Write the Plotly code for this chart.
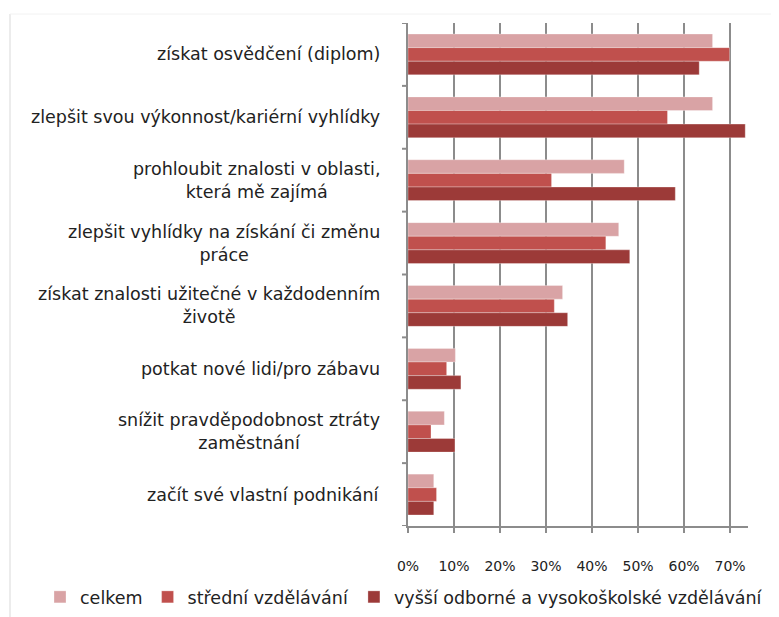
import plotly.graph_objects as go

categories = [
    "získat osvědčení (diplom)",
    "zlepšit svou výkonnost/kariérní vyhlídky",
    "prohloubit znalosti v oblasti,<br>která mě zajímá",
    "zlepšit vyhlídky na získání či změnu<br>práce",
    "získat znalosti užitečné v každodenním<br>životě",
    "potkat nové lidi/pro zábavu",
    "snížit pravděpodobnost ztráty<br>zaměstnání",
    "začít své vlastní podnikání",
]
series_names = ["celkem", "střední vzdělávání", "vyšší odborné a vysokoškolské vzdělávání"]
celkem = [0.662, 0.662, 0.470, 0.458, 0.336, 0.103, 0.079, 0.056]
stredni = [0.699, 0.564, 0.312, 0.430, 0.318, 0.084, 0.050, 0.062]
vyssi = [0.633, 0.733, 0.581, 0.482, 0.347, 0.115, 0.102, 0.056]
tick_vals = [0, 0.1, 0.2, 0.3, 0.4, 0.5, 0.6, 0.7]
tick_text = ["0%", "10%", "20%", "30%", "40%", "50%", "60%", "70%"]

colors = ["#D9A3A5", "#C0504D", "#9C3A38"]
cat_ids = list(range(len(categories)))
LABEL_FONT = dict(family="DejaVu Sans", size=17.5, color="#222222")

# page body has an 8px margin; work in figure coordinates
OFF = 8
PL, PR, PT, PB = 408 - OFF, 748 - OFF, 23 - OFF, 526 - OFF
W, H = 779, 617
PW, PH = PR - PL, PB - PT


def px_x(x):
    return (x - OFF - PL) / PW


def px_y(y):
    return (PB - (y - OFF)) / PH


fig = go.Figure()
for name, vals, col in zip(series_names, [celkem, stredni, vyssi], colors):
    fig.add_trace(go.Bar(
        y=cat_ids, x=vals, name=name, orientation="h",
        marker=dict(color=col, line=dict(color="rgba(255,255,255,0.6)", width=0.5)),
    ))

for i, c in enumerate(categories):
    fig.add_annotation(
        x=0, xref="paper", y=i, yref="y", text=c, showarrow=False,
        xanchor="right", yanchor="middle", align="center", xshift=-26,
        font=LABEL_FONT,
    )

# faint outer frame
fig.add_shape(type="line", xref="paper", yref="paper",
              x0=px_x(10), x1=px_x(10), y0=px_y(14), y1=px_y(630),
              line=dict(color="#e6e6e6", width=1.5))
fig.add_shape(type="line", xref="paper", yref="paper",
              x0=px_x(10), x1=px_x(790), y0=px_y(14), y1=px_y(14),
              line=dict(color="#f2f2f2", width=1))

fig.update_layout(
    width=W, height=H,
    margin=dict(l=PL, r=W - PR, t=PT, b=H - PB, autoexpand=False),
    paper_bgcolor="white", plot_bgcolor="white",
    barmode="group", bargap=0.35, bargroupgap=0,
    font=LABEL_FONT,
    showlegend=True,
    legend=dict(orientation="h", x=px_x(40), xanchor="left",
                y=px_y(597), yanchor="middle",
                font=LABEL_FONT, itemwidth=30, tracegroupgap=0,
                bgcolor="rgba(0,0,0,0)", itemclick=False),
    xaxis=dict(
        range=[0, 0.739], tickvals=tick_vals, ticktext=tick_text,
        showgrid=True, gridcolor="#8c8c8c", gridwidth=2,
        showline=True, linecolor="#8c8c8c", linewidth=2,
        ticks="outside", ticklen=5, tickcolor="#8c8c8c", tickwidth=2,
        ticklabelstandoff=21, zeroline=False,
        tickfont=dict(family="DejaVu Sans", size=14, color="#222222"),
    ),
    yaxis=dict(
        tickvals=cat_ids, range=[len(categories) - 0.5, -0.5],
        showticklabels=False, showgrid=False, zeroline=False,
        showline=True, linecolor="#8c8c8c", linewidth=2,
        ticks="",
    ),
)

# category boundary ticks on the y axis
for b in range(len(categories) + 1):
    fig.add_shape(type="line", xref="paper", yref="y",
                  x0=-6 / PW, x1=0, y0=b - 0.5, y1=b - 0.5,
                  line=dict(color="#8c8c8c", width=2))

fig.write_html("out.html")
